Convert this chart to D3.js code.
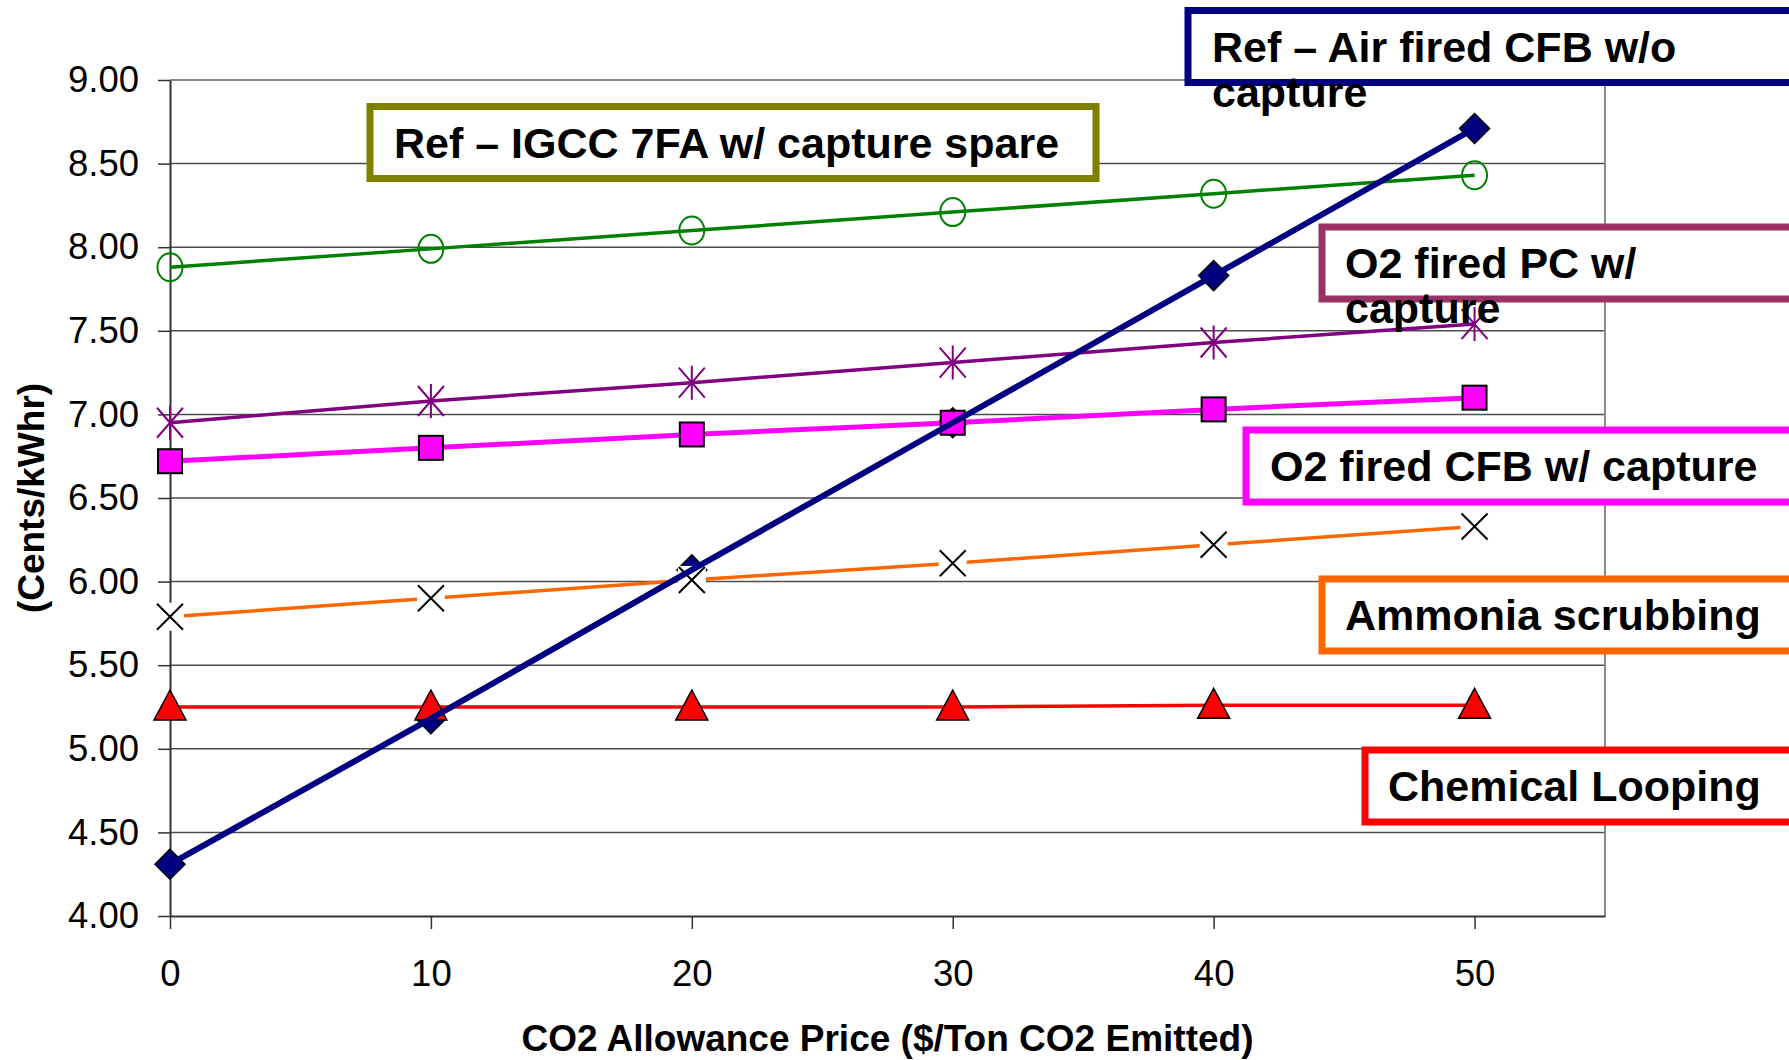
<!DOCTYPE html>
<html>
<head>
<meta charset="utf-8">
<script src="https://cdn.jsdelivr.net/npm/d3@7"></script>
<style>
  html, body { margin: 0; padding: 0; background: #fff; }
  svg text { font-family: "Liberation Sans", Arial, Helvetica, sans-serif; }
</style>
</head>
<body>
<div id="chart"></div>
<script>
// CO2 allowance price ($/ton) on the x axis
const prices = [0, 10, 20, 30, 40, 50];

// cost of electricity, cents/kWhr, one array per technology
const airFiredCFB = [4.31, 5.18, 6.07, 6.95, 7.83, 8.71];
const igcc7FA = [7.88, 7.99, 8.10, 8.21, 8.32, 8.43];
const o2FiredPC = [6.95, 7.08, 7.19, 7.31, 7.43, 7.54];
const o2FiredCFB = [6.72, 6.80, 6.88, 6.95, 7.03, 7.10];
const ammoniaScrubbing = [5.79, 5.90, 6.01, 6.11, 6.22, 6.33];
const chemicalLooping = [5.25, 5.25, 5.25, 5.25, 5.26, 5.26];

const yTicks = [4.0, 4.5, 5.0, 5.5, 6.0, 6.5, 7.0, 7.5, 8.0, 8.5, 9.0];

const labelAirCFB = ["Ref – Air fired CFB w/o", "capture"];
const labelIGCC = ["Ref – IGCC 7FA w/ capture spare"];
const labelO2PC = ["O2 fired PC w/", "capture"];
const labelO2CFB = ["O2 fired CFB w/ capture"];
const labelAmmonia = ["Ammonia scrubbing"];
const labelLooping = ["Chemical Looping"];

const xTitle = "CO2 Allowance Price ($/Ton CO2 Emitted)";
const yTitle = "(Cents/kWhr)";

function drawChart() {
    const width = 1789;
    const height = 1060;
    const plot = { left: 170, right: 1605, top: 80, bottom: 916 };

    const svg = d3.select('#chart')
        .append('svg')
        .attr('width', width)
        .attr('height', height);

    const x = d3.scaleLinear().domain([0, 55]).range([plot.left, plot.right]);
    const y = d3.scaleLinear().domain([4, 9]).range([plot.bottom, plot.top]);

    // gridlines
    svg.append('g')
        .selectAll('line')
        .data(yTicks.filter(d => d > 4 && d < 9))
        .enter()
        .append('line')
        .attr('x1', plot.left)
        .attr('x2', plot.right)
        .attr('y1', d => y(d))
        .attr('y2', d => y(d))
        .attr('stroke', '#4d4d4d')
        .attr('stroke-width', 1.5);

    // plot area border top and right
    svg.append('path')
        .attr('d', `M${plot.left},${y(9)}H${plot.right}V${plot.bottom}`)
        .attr('fill', 'none')
        .attr('stroke', '#8a8a8a')
        .attr('stroke-width', 2);

    // axes
    const yAxis = svg.append('g')
        .attr('transform', `translate(${plot.left},0)`)
        .call(d3.axisLeft(y)
            .tickValues(yTicks)
            .tickFormat(d3.format('.2f'))
            .tickSize(12)
            .tickSizeOuter(0)
            .tickPadding(19));

    const xAxis = svg.append('g')
        .attr('transform', `translate(0,${plot.bottom})`)
        .call(d3.axisBottom(x)
            .tickValues(prices)
            .tickFormat(d3.format('d'))
            .tickSize(13)
            .tickSizeOuter(0)
            .tickPadding(31));

    [yAxis, xAxis].forEach(ax => {
        ax.select('.domain').attr('stroke', '#333').attr('stroke-width', 2);
        ax.selectAll('.tick line').attr('stroke', '#333').attr('stroke-width', 1.5);
        ax.selectAll('.tick text')
            .attr('fill', '#000')
            .attr('font-size', 36.5)
            .attr('font-family', '"Liberation Sans", Arial, sans-serif');
    });

    // axis titles
    svg.append('text')
        .attr('x', (plot.left + plot.right) / 2)
        .attr('y', 1051)
        .attr('text-anchor', 'middle')
        .attr('font-size', 37)
        .attr('font-weight', 'bold')
        .text(xTitle);

    svg.append('text')
        .attr('transform', `translate(44,${(plot.top + plot.bottom) / 2}) rotate(-90)`)
        .attr('text-anchor', 'middle')
        .attr('font-size', 37)
        .attr('font-weight', 'bold')
        .text(yTitle);

    const line = d3.line().x((d, i) => x(prices[i])).y(d => y(d));

    // marker shapes
    function diamond(g, vals) {
        g.selectAll('.dm').data(vals).enter().append('path')
            .attr('d', (d, i) => {
                const cx = x(prices[i]), cy = y(d), r = 15;
                return `M${cx},${cy - r}L${cx + r},${cy}L${cx},${cy + r}L${cx - r},${cy}Z`;
            })
            .attr('fill', '#000080').attr('stroke', '#000').attr('stroke-width', 1.5);
    }
    function square(g, vals) {
        g.selectAll('.sq').data(vals).enter().append('rect')
            .attr('x', (d, i) => x(prices[i]) - 12)
            .attr('y', d => y(d) - 12)
            .attr('width', 24).attr('height', 24)
            .attr('fill', '#ff00ff').attr('stroke', '#000').attr('stroke-width', 2);
    }
    function circle(g, vals) {
        g.selectAll('.ci').data(vals).enter().append('ellipse')
            .attr('cx', (d, i) => x(prices[i]))
            .attr('cy', d => y(d))
            .attr('rx', 12.5).attr('ry', 14)
            .attr('fill', 'none').attr('stroke', '#008000').attr('stroke-width', 2);
    }
    function star(g, vals) {
        g.selectAll('.st').data(vals).enter().append('path')
            .attr('d', (d, i) => {
                const cx = x(prices[i]), cy = y(d), a = 13, b = 15;
                return `M${cx - a},${cy - b}L${cx + a},${cy + b}M${cx + a},${cy - b}L${cx - a},${cy + b}M${cx},${cy - b - 2}V${cy + b + 2}`;
            })
            .attr('fill', 'none').attr('stroke', '#800080').attr('stroke-width', 2);
    }
    function cross(g, vals) {
        g.selectAll('.bg').data(vals).enter().append('rect')
            .attr('x', (d, i) => x(prices[i]) - 14)
            .attr('y', d => y(d) - 14)
            .attr('width', 28).attr('height', 28)
            .attr('fill', '#fff');
        g.selectAll('.cr').data(vals).enter().append('path')
            .attr('d', (d, i) => {
                const cx = x(prices[i]), cy = y(d), a = 13;
                return `M${cx - a},${cy - a}L${cx + a},${cy + a}M${cx + a},${cy - a}L${cx - a},${cy + a}`;
            })
            .attr('fill', 'none').attr('stroke', '#000').attr('stroke-width', 2);
    }
    function triangle(g, vals) {
        g.selectAll('.tr').data(vals).enter().append('path')
            .attr('d', (d, i) => {
                const cx = x(prices[i]), cy = y(d);
                return `M${cx},${cy - 17}L${cx + 16},${cy + 13}L${cx - 16},${cy + 13}Z`;
            })
            .attr('fill', '#ff0000').attr('stroke', '#000').attr('stroke-width', 1.5);
    }

    // air fired diamonds go underneath the other series
    diamond(svg.append('g'), airFiredCFB);

    const series = [
        { vals: igcc7FA, color: '#008000', w: 3.5, marker: circle },
        { vals: o2FiredPC, color: '#800080', w: 3.5, marker: star },
        { vals: o2FiredCFB, color: '#ff00ff', w: 5, marker: square },
        { vals: ammoniaScrubbing, color: '#ff6600', w: 3.5, marker: cross },
        { vals: chemicalLooping, color: '#ff0000', w: 3.5, marker: triangle }
    ];

    series.forEach(s => {
        const g = svg.append('g');
        g.append('path')
            .attr('d', line(s.vals))
            .attr('fill', 'none')
            .attr('stroke', s.color)
            .attr('stroke-width', s.w);
        s.marker(g, s.vals);
    });

    // the air fired line sits on top
    svg.append('path')
        .attr('d', line(airFiredCFB))
        .attr('fill', 'none')
        .attr('stroke', '#000080')
        .attr('stroke-width', 6);

    // label boxes
    const boxes = [
        { lines: labelAirCFB, color: '#000080', x: 1188, y: 10.5, w: 700, tx: 1212 },
        { lines: labelIGCC, color: '#808000', x: 370, y: 106.5, w: 726, tx: 394 },
        { lines: labelO2PC, color: '#993366', x: 1322, y: 227, w: 600, tx: 1345 },
        { lines: labelO2CFB, color: '#ff00ff', x: 1246, y: 430, w: 600, tx: 1270 },
        { lines: labelAmmonia, color: '#ff6600', x: 1322, y: 579, w: 600, tx: 1345 },
        { lines: labelLooping, color: '#ff0000', x: 1365, y: 750, w: 600, tx: 1388 }
    ];

    boxes.forEach(b => {
        svg.append('rect')
            .attr('x', b.x).attr('y', b.y)
            .attr('width', b.w).attr('height', 72)
            .attr('fill', '#fff')
            .attr('stroke', b.color)
            .attr('stroke-width', 7);
        const t = svg.append('text')
            .attr('x', b.tx)
            .attr('y', b.y + 36 + 15)
            .attr('font-size', 43)
            .attr('font-weight', 'bold')
            .attr('fill', '#000');
        b.lines.forEach((l, i) => {
            t.append('tspan')
                .attr('x', b.tx)
                .attr('dy', i === 0 ? 0 : 45)
                .text(l);
        });
    });
}

document.addEventListener('DOMContentLoaded', function() {
    drawChart();
});
</script>
</body>
</html>
